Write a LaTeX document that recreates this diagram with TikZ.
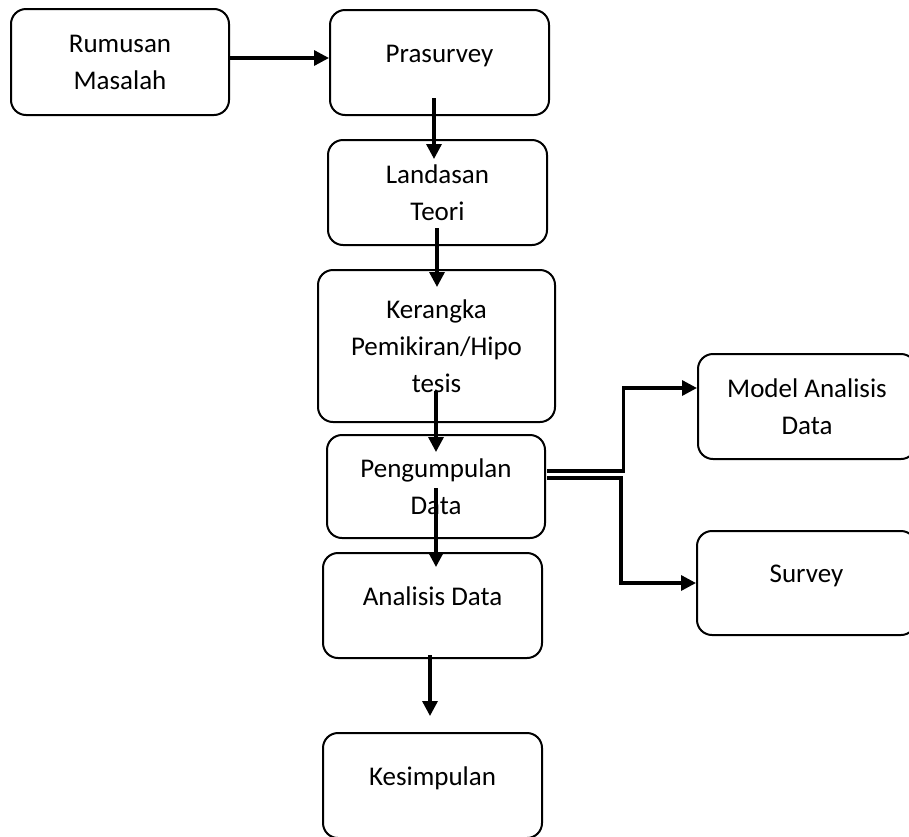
\documentclass[tikz,border=0pt]{standalone}
\usepackage{fontspec}
\setmainfont{Carlito}
\usetikzlibrary{arrows.meta,calc}
\tikzset{
  box/.style={draw=black, line width=2pt, rounded corners=15pt, align=center,
    inner sep=0pt, font=\fontsize{27}{37}\selectfont},
  oneline/.style={text height=18pt, text depth=19pt},
  arr/.style={line width=3.3pt, -{Triangle[length=15pt,width=15pt]}},
}
\begin{document}
\begin{tikzpicture}[x=1pt,y=-1pt]
\useasboundingbox (0,0) rectangle (909,836);
% boxes
\node[box, minimum width=218pt, minimum height=106pt] (rm) at (120,62) {Rumusan\\Masalah};
\node[box, oneline, minimum width=219pt, minimum height=105pt] (pra) at (439.5,62.5) {Prasurvey};
\node[box, minimum width=219pt, minimum height=105pt] (lt) at (437.5,192.5) {Landasan\\Teori};
\node[box, minimum width=237pt, minimum height=152pt] (kp) at (436.5,346) {Kerangka\\Pemikiran/Hipo\\tesis};
\node[box, minimum width=218pt, minimum height=103pt] (pd) at (436,486.5) {Pengumpulan\\Data};
\node[box, oneline, minimum width=219pt, minimum height=105pt] (ad) at (432.5,605.5) {Analisis Data};
\node[box, oneline, minimum width=219pt, minimum height=105pt] (ks) at (432.5,785.5) {Kesimpulan};
\node[box, minimum width=218pt, minimum height=105pt] (mad) at (807,406.5) {Model Analisis\\Data};
\node[box, oneline, minimum width=219pt, minimum height=104pt] (sv) at (806.5,583) {Survey};
% connectors
\draw[arr] ($(rm.east)+(0,-4)$) -- ($(pra.west)+(0,-4.5)$);
\draw[arr] ($(pra.south)+(-5.5,-18)$) -- ($(lt.north)+(-3.5,20)$);
\draw[arr] ($(lt.south)+(-0.5,-18)$) -- ($(kp.north)+(0.5,18)$);
\draw[arr] ($(kp.south)+(-0.5,-32)$) -- ($(pd.north)+(0,18)$);
\draw[arr] ($(pd.south)+(0,-51)$) -- ($(ad.north)+(3.5,15)$);
\draw[arr] ($(ad.south)+(-2.5,-4)$) -- ($(ks.north)+(-2.5,-16)$);
\draw[arr, line cap=butt] ($(pd.east)+(1,-15.5)$) -- (623.5,471) |- ($(mad.west)+(0,-18.5)$);
\draw[arr] ($(pd.east)+(1,-8.5)$) -- (621,478) |- (sv.west);
\end{tikzpicture}
\end{document}
